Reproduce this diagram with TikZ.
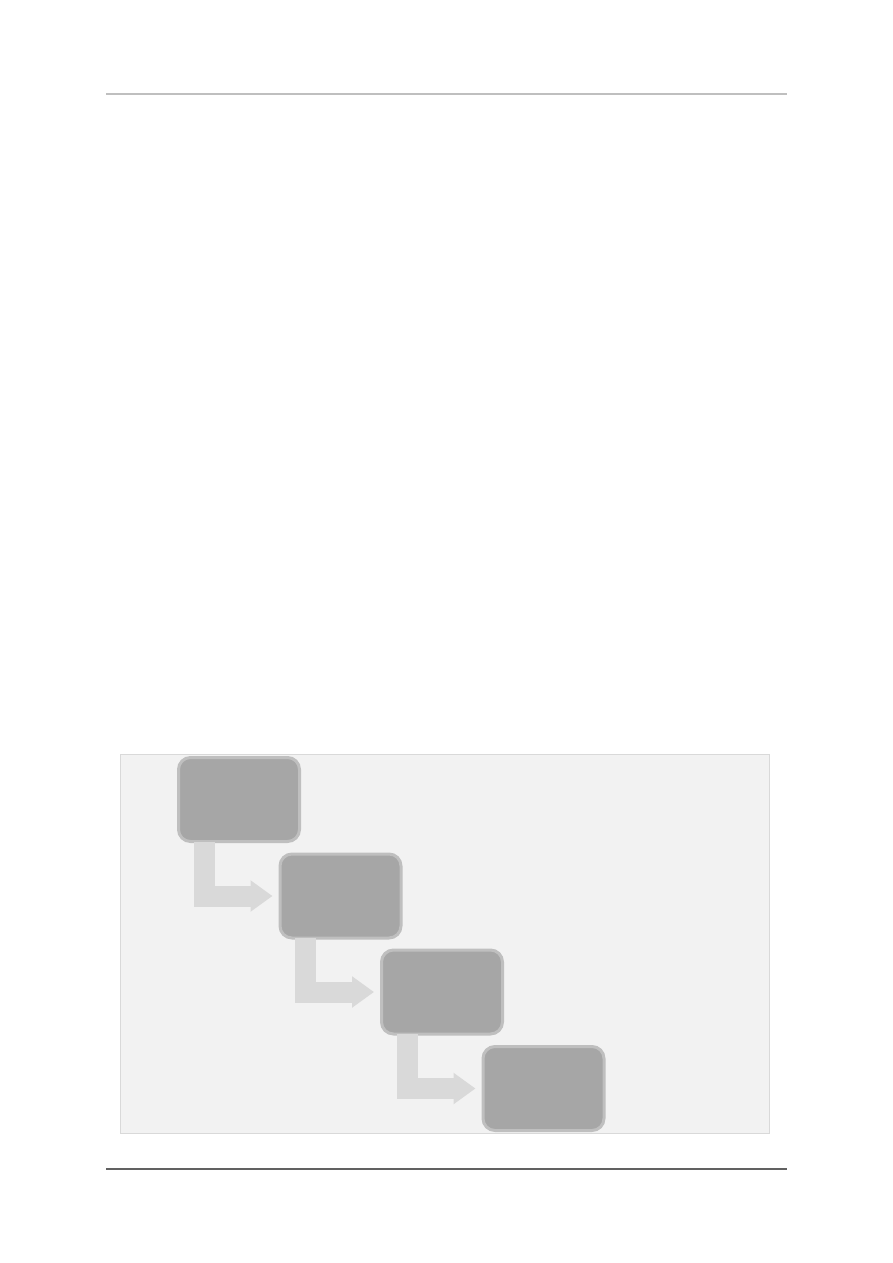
\documentclass[tikz,border=0pt]{standalone}
\usepackage{tikz}
\usetikzlibrary{arrows.meta}

\definecolor{panelfill}{HTML}{F2F2F2}
\definecolor{panelline}{HTML}{D9D9D9}
\definecolor{stepfill}{HTML}{A6A6A6}
\definecolor{stepline}{HTML}{BFBFBF}
\definecolor{flowfill}{HTML}{D9D9D9}

\tikzset{
  stepbox/.style={rectangle, rounded corners=12pt, fill=stepfill, draw=stepline,
    line width=3pt, minimum width=121pt, minimum height=84pt, inner sep=0pt},
  flowarrow/.style={draw=flowfill, line width=21pt, line join=miter,
    -{Triangle[width=30pt,length=22pt]}}
}

\begin{document}
\begin{tikzpicture}[x=1pt,y=-1pt]
\useasboundingbox (0,0) rectangle (893,1263);
\draw[line width=1.5pt, stepline] (106,94) -- (787,94);
\draw[line width=1.2pt, black!62] (106,1169) -- (787,1169);
\draw[fill=panelfill, draw=panelline, line width=1pt] (120.5,754.5) rectangle (769,1133);
\node[stepbox] (step1) at (239,799.5) {};
\node[stepbox] (step2) at (340.5,896) {};
\node[stepbox] (step3) at (442,992) {};
\node[stepbox] (step4) at (543.5,1088.5) {};
\draw[flowarrow] ([xshift=27pt,yshift=1.5pt]step1.south west) |- ([xshift=-6pt]step2.west);
\draw[flowarrow] ([xshift=27pt,yshift=1.5pt]step2.south west) |- ([xshift=-6pt]step3.west);
\draw[flowarrow] ([xshift=27pt,yshift=1.5pt]step3.south west) |- ([xshift=-6pt]step4.west);
\end{tikzpicture}
\end{document}
